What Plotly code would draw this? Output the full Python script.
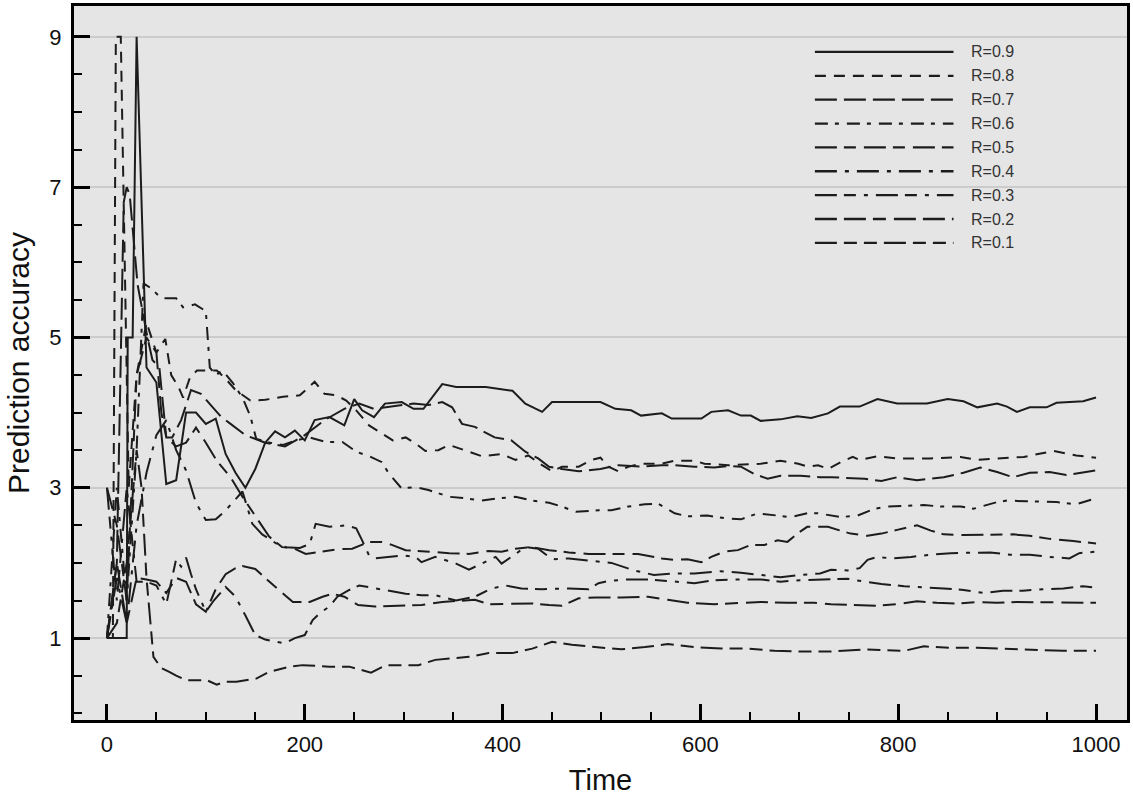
import plotly.graph_objects as go

# ---------------- data ----------------
T9 = [0, 20, 21, 26, 30, 40, 50, 60, 70, 80, 90, 100, 110, 120, 130, 140, 150, 160, 170, 180,
      190, 200, 210, 225, 240, 250, 258, 270, 281, 298, 310, 320, 339, 353, 383, 410, 423, 440, 450, 499,
      514, 530, 540, 561, 571, 601, 611, 628, 641, 651, 661, 681, 698, 712, 729, 741, 761, 779, 799, 829,
      850, 866, 880, 900, 910, 920, 933, 950, 960, 987, 1000]
V9 = [1, 1, 5, 5, 9, 4.6, 4.4, 3.05, 3.1, 4.0, 4.0, 3.85, 3.92, 3.45, 3.2, 3.0, 3.25, 3.6, 3.75, 3.67,
      3.76, 3.63, 3.9, 3.94, 3.83, 4.18, 4.03, 3.94, 4.12, 4.14, 4.05, 4.05, 4.38, 4.34, 4.34, 4.29, 4.12, 4.01, 4.14, 4.14,
      4.05, 4.03, 3.96, 3.99, 3.92, 3.92, 4.01, 4.03, 3.96, 3.96, 3.89, 3.91, 3.95, 3.93, 3.99, 4.08, 4.08, 4.18, 4.12, 4.12,
      4.18, 4.15, 4.07, 4.12, 4.08, 4.01, 4.07, 4.07, 4.13, 4.15, 4.2]

T8 = [0, 6, 9, 14, 22, 30, 40, 50, 59, 65, 72, 77, 84, 91, 111, 120, 130, 145, 160, 178,
      195, 210, 220, 232, 242, 252, 265, 278, 289, 302, 312, 322, 335, 346, 362, 379, 399, 413, 426, 440,
      450, 460, 477, 490, 499, 507, 517, 527, 540, 561, 574, 594, 604, 628, 661, 681, 699, 709, 719, 729,
      742, 754, 761, 779, 799, 833, 863, 880, 900, 927, 957, 980, 1000]
V8 = [1, 1, 9, 9, 3.0, 4.5, 5.2, 4.8, 4.98, 4.5, 4.35, 4.2, 4.47, 4.56, 4.56, 4.45, 4.3, 4.16, 4.17, 4.21,
      4.23, 4.41, 4.25, 4.23, 4.16, 4.03, 3.83, 3.72, 3.63, 3.67, 3.59, 3.49, 3.5, 3.57, 3.5, 3.42, 3.45, 3.37, 3.43, 3.3,
      3.22, 3.28, 3.28, 3.37, 3.4, 3.28, 3.22, 3.28, 3.32, 3.32, 3.36, 3.36, 3.32, 3.3, 3.32, 3.36, 3.32, 3.28, 3.3, 3.25,
      3.34, 3.41, 3.37, 3.42, 3.39, 3.39, 3.41, 3.37, 3.39, 3.41, 3.49, 3.43, 3.4]

T7 = [0, 10, 17, 20, 23, 31, 41, 46, 53, 58, 60, 66, 75, 85, 95, 105, 115, 125, 140, 160,
      180, 200, 220, 240, 255, 270, 290, 310, 325, 339, 349, 359, 372, 392, 409, 423, 436, 447, 460, 477,
      499, 517, 540, 561, 574, 594, 614, 628, 641, 655, 668, 681, 701, 721, 732, 766, 783, 799, 819, 846,
      866, 883, 900, 916, 933, 953, 970, 1000]
V7 = [1, 2.0, 6.8, 7.0, 6.9, 5.7, 5.0, 4.7, 4.6, 3.95, 3.67, 3.67, 3.9, 4.3, 4.25, 4.1, 3.95, 3.85, 3.7, 3.6,
      3.55, 3.7, 3.9, 4.05, 4.12, 4.05, 4.08, 4.12, 4.1, 4.14, 4.07, 3.85, 3.81, 3.67, 3.63, 3.48, 3.39, 3.28, 3.25, 3.22,
      3.25, 3.3, 3.28, 3.3, 3.3, 3.28, 3.27, 3.29, 3.28, 3.18, 3.12, 3.16, 3.16, 3.14, 3.14, 3.12, 3.09, 3.14, 3.1, 3.14,
      3.2, 3.27, 3.21, 3.14, 3.2, 3.21, 3.17, 3.23]

T6 = [0, 10, 20, 30, 37, 45, 55, 70, 77, 89, 100, 104, 110, 117, 127, 137, 145, 151, 165, 178,
      191, 205, 221, 238, 252, 265, 278, 285, 298, 312, 325, 346, 362, 379, 396, 413, 430, 447, 460, 474,
      497, 510, 527, 544, 557, 574, 587, 607, 628, 641, 658, 675, 691, 708, 719, 742, 759, 776, 789, 826,
      843, 863, 876, 900, 910, 930, 960, 980, 1000]
V6 = [1, 3.0, 1.5, 3.5, 5.72, 5.65, 5.52, 5.52, 5.4, 5.44, 5.35, 4.6, 4.5, 4.56, 4.4, 4.2, 3.95, 3.65, 3.6, 3.57,
      3.63, 3.67, 3.61, 3.61, 3.48, 3.42, 3.34, 3.19, 2.99, 3.01, 2.97, 2.88, 2.86, 2.83, 2.86, 2.88, 2.83, 2.8, 2.75, 2.68,
      2.7, 2.7, 2.75, 2.78, 2.79, 2.66, 2.62, 2.63, 2.59, 2.58, 2.66, 2.63, 2.61, 2.66, 2.66, 2.61, 2.63, 2.72, 2.75, 2.77,
      2.75, 2.75, 2.72, 2.81, 2.83, 2.82, 2.81, 2.78, 2.86]

T5 = [0, 10, 20, 30, 40, 50, 55, 60, 70, 80, 90, 100, 111, 125, 137, 151, 164, 177, 188, 201,
      218, 232, 248, 265, 278, 288, 302, 322, 346, 366, 386, 399, 413, 430, 447, 467, 487, 510, 537, 561,
      574, 587, 601, 611, 624, 638, 651, 665, 678, 688, 698, 708, 729, 739, 752, 769, 783, 799, 819, 833,
      846, 866, 893, 916, 933, 953, 977, 1000]
V5 = [3.0, 2.5, 1.5, 4.5, 5.0, 4.8, 4.0, 3.67, 3.55, 3.6, 3.8, 3.6, 3.36, 3.14, 2.88, 2.61, 2.35, 2.21, 2.2, 2.12,
      2.15, 2.18, 2.19, 2.28, 2.28, 2.24, 2.17, 2.15, 2.13, 2.12, 2.16, 2.15, 2.19, 2.21, 2.17, 2.14, 2.12, 2.12, 2.12, 2.06,
      2.04, 2.05, 2.01, 2.08, 2.15, 2.17, 2.24, 2.24, 2.3, 2.28, 2.39, 2.48, 2.48, 2.44, 2.39, 2.36, 2.39, 2.44, 2.5, 2.43,
      2.38, 2.37, 2.38, 2.38, 2.36, 2.32, 2.29, 2.26]

T4 = [0, 10, 20, 30, 40, 50, 60, 70, 80, 90, 100, 110, 120, 130, 137, 147, 157, 171, 181, 195,
      205, 211, 225, 242, 252, 258, 265, 271, 285, 300, 312, 318, 332, 353, 366, 379, 393, 399, 409, 423,
      436, 447, 453, 467, 487, 510, 533, 553, 574, 594, 620, 641, 661, 681, 701, 721, 732, 749, 761, 769,
      779, 793, 813, 833, 853, 873, 893, 913, 933, 953, 973, 983, 1000]
V4 = [1, 1.8, 1.2, 2.5, 3.2, 3.7, 3.9, 3.5, 3.23, 2.8, 2.57, 2.58, 2.7, 2.85, 2.95, 2.52, 2.38, 2.26, 2.21, 2.2,
      2.25, 2.52, 2.48, 2.5, 2.46, 2.3, 2.1, 2.06, 2.08, 2.1, 2.08, 2.01, 2.08, 1.99, 1.91, 1.99, 2.08, 1.99, 2.08, 2.21,
      2.19, 2.08, 2.05, 2.06, 2.03, 2.0, 1.9, 1.84, 1.86, 1.86, 1.89, 1.87, 1.84, 1.81, 1.84, 1.86, 1.91, 1.9, 1.93, 2.04,
      2.08, 2.06, 2.08, 2.11, 2.13, 2.14, 2.14, 2.11, 2.11, 2.08, 2.06, 2.13, 2.15]

T3 = [0, 10, 20, 30, 40, 50, 60, 65, 70, 75, 80, 85, 90, 100, 108, 120, 130, 140, 150, 160,
      170, 180, 190, 200, 208, 215, 225, 233, 245, 255, 268, 285, 302, 318, 332, 353, 372, 389, 403, 419,
      440, 467, 487, 497, 507, 527, 547, 567, 594, 614, 634, 661, 681, 701, 721, 732, 749, 766, 783, 806,
      826, 846, 866, 886, 906, 926, 946, 967, 987, 1000]
V3 = [3.0, 1.5, 3.0, 1.75, 1.75, 1.7, 1.45, 1.75, 2.05, 1.95, 2.07, 1.85, 1.65, 1.35, 1.5, 1.68, 1.55, 1.3, 1.04, 0.98,
      0.95, 0.93, 1.0, 1.04, 1.24, 1.33, 1.42, 1.55, 1.64, 1.7, 1.67, 1.63, 1.59, 1.57, 1.57, 1.5, 1.55, 1.66, 1.7, 1.66,
      1.65, 1.66, 1.65, 1.73, 1.76, 1.78, 1.78, 1.76, 1.73, 1.77, 1.78, 1.78, 1.75, 1.77, 1.78, 1.79, 1.79, 1.75, 1.72, 1.69,
      1.68, 1.66, 1.64, 1.6, 1.63, 1.63, 1.65, 1.66, 1.69, 1.67]

T2 = [0, 10, 20, 30, 40, 50, 60, 70, 80, 90, 100, 110, 120, 130, 137, 150, 160, 170, 180, 188,
      205, 218, 228, 240, 254, 271, 295, 318, 339, 355, 372, 386, 406, 430, 447, 460, 477, 494, 520, 547,
      567, 587, 614, 641, 661, 688, 715, 732, 752, 779, 799, 819, 839, 859, 880, 900, 920, 940, 967, 1000]
V2 = [1, 2.0, 1.2, 1.8, 1.78, 1.75, 1.6, 1.8, 1.75, 1.45, 1.35, 1.65, 1.85, 1.93, 1.96, 1.92, 1.8, 1.68, 1.57, 1.48,
      1.48, 1.55, 1.59, 1.55, 1.44, 1.42, 1.43, 1.44, 1.48, 1.49, 1.51, 1.45, 1.45, 1.46, 1.44, 1.43, 1.53, 1.54, 1.54, 1.55,
      1.51, 1.47, 1.45, 1.47, 1.48, 1.47, 1.47, 1.45, 1.44, 1.43, 1.45, 1.49, 1.47, 1.46, 1.48, 1.47, 1.48, 1.48, 1.48, 1.47]

T1 = [0, 10, 20, 30, 35, 40, 47, 55, 63, 70, 80, 90, 101, 111, 120, 131, 151, 164, 185, 198,
      225, 245, 267, 282, 298, 315, 332, 349, 366, 386, 410, 430, 450, 470, 494, 520, 544, 567, 594, 621,
      648, 675, 701, 732, 766, 806, 826, 853, 880, 906, 933, 967, 1000]
V1 = [1, 1.2, 2.0, 3.5, 3.0, 1.8, 0.75, 0.6, 0.55, 0.5, 0.44, 0.44, 0.44, 0.38, 0.42, 0.42, 0.46, 0.55, 0.62, 0.64,
      0.62, 0.62, 0.54, 0.64, 0.64, 0.64, 0.71, 0.73, 0.75, 0.8, 0.8, 0.86, 0.95, 0.91, 0.88, 0.85, 0.88, 0.92, 0.88, 0.86,
      0.86, 0.83, 0.82, 0.82, 0.85, 0.83, 0.89, 0.87, 0.87, 0.86, 0.85, 0.83, 0.83]

NAMES = ["R=0.9", "R=0.8", "R=0.7", "R=0.6", "R=0.5", "R=0.4", "R=0.3", "R=0.2", "R=0.1"]
TIMES = [T9, T8, T7, T6, T5, T4, T3, T2, T1]
VALUES = [V9, V8, V7, V6, V5, V4, V3, V2, V1]
X_TICKS = [0, 200, 400, 600, 800, 1000]
Y_TICKS = [1, 3, 5, 7, 9]

# ---------------- styles ----------------
DASHES = ["solid", "11px,8px", "22px,7px", "13px,7px,4px,8px", "22px,7px,12px,8px",
          "22px,8px,4px,8px", "22px,7px,12px,8px,4px,8px", "22px,7px,22px,7px,13px,8px",
          "22px,7px,13px,7px,13px,7px"]
LINE_COLOR = "#1c1c1c"
FONT = "Liberation Sans, Arial, Helvetica, sans-serif"

W, H = 1133, 799
ML, MR, MT, MB = 74, 3, 5, 79
PW, PH = W - ML - MR, H - MT - MB

fig = go.Figure()
for name, t, v, d in zip(NAMES, TIMES, VALUES, DASHES):
    assert len(t) == len(v), (name, len(t), len(v))
    fig.add_trace(go.Scatter(x=t, y=v, mode="lines", name=name, showlegend=False,
                             line=dict(color=LINE_COLOR, width=2, dash=d)))

# hand-drawn legend (long line samples, like the reference)
def px_x(p):
    return (p - ML) / PW

def px_y(p):
    return (H - MB - p) / PH

shapes = []
annotations = []
for i, (name, d) in enumerate(zip(NAMES, DASHES)):
    yy = px_y(51 + 23.9 * i)
    shapes.append(dict(type="line", xref="paper", yref="paper", x0=px_x(817), x1=px_x(956),
                       y0=yy, y1=yy, line=dict(color=LINE_COLOR, width=2.3, dash=d)))
    annotations.append(dict(xref="paper", yref="paper", x=px_x(972), y=yy, text=name,
                            showarrow=False, xanchor="left", yanchor="middle",
                            font=dict(family=FONT, size=16, color="#333333")))

fig.update_layout(
    width=W, height=H,
    margin=dict(l=ML, r=MR, t=MT, b=MB),
    paper_bgcolor="white", plot_bgcolor="#e5e5e5",
    shapes=shapes, annotations=annotations,
    font=dict(family=FONT, color="#111111"),
)
fig.update_xaxes(
    range=[-33.3, 1031.3], tickmode="array", tickvals=X_TICKS,
    ticks="inside", ticklen=16, tickwidth=2.5, tickcolor="black",
    showline=True, linewidth=3, linecolor="black", mirror=True,
    showgrid=False, zeroline=False,
    minor=dict(dtick=50, tick0=0, ticks="inside", ticklen=8, tickwidth=1.5, tickcolor="black", showgrid=False),
    tickfont=dict(size=22, family=FONT, color="#111111"), ticklabelstandoff=3,
    title=dict(text="Time", font=dict(size=29, family=FONT, color="#111111"), standoff=14),
)
fig.update_yaxes(
    range=[-0.09, 9.41], tickmode="array", tickvals=Y_TICKS,
    ticks="inside", ticklen=16, tickwidth=2.5, tickcolor="black",
    showline=True, linewidth=3, linecolor="black", mirror=True,
    showgrid=True, gridcolor="#cbcbcb", gridwidth=1.5, zeroline=False,
    minor=dict(dtick=0.5, tick0=0, ticks="inside", ticklen=8, tickwidth=1.5, tickcolor="black", showgrid=False),
    tickfont=dict(size=22, family=FONT, color="#111111"), ticklabelstandoff=5,
    title=dict(text="Prediction accuracy", font=dict(size=30, family=FONT, color="#111111"), standoff=11),
)

# the page's default body margin would shift the chart by 8 px; remove it
fig.write_html("out.html", config={"displayModeBar": False},
               post_script="document.body.style.margin='0';")
